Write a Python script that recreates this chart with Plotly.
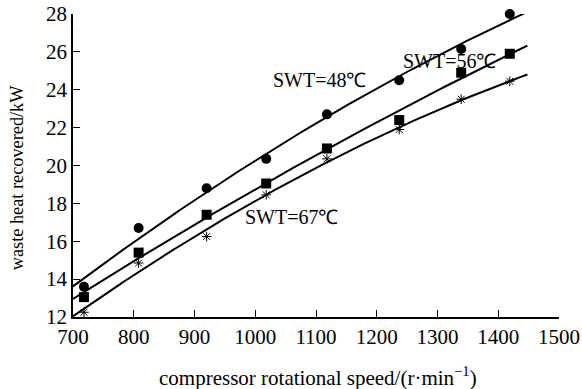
import numpy as np
import plotly.graph_objects as go

speed = [718, 808, 920, 1018, 1118, 1237, 1339, 1419]
heat_48 = [13.6, 16.7, 18.8, 20.35, 22.7, 24.5, 26.15, 28.0]
heat_56 = [13.05, 15.4, 17.4, 19.05, 20.9, 22.4, 24.9, 25.9]
heat_67 = [12.25, 14.85, 16.25, 18.45, 20.35, 21.9, 23.5, 24.45]
labels = ["SWT=48℃", "SWT=56℃", "SWT=67℃"]
label_pos = [(1106, 24.5), (1320, 25.5), (1060, 17.3)]
x_ticks = [700, 800, 900, 1000, 1100, 1200, 1300, 1400, 1500]
y_ticks = [12, 14, 16, 18, 20, 22, 24, 26, 28]
x_title = "compressor rotational speed/(r·min<sup>−1</sup>)"
y_title = "waste heat recovered/kW"

FONT = "Liberation Serif, Times New Roman, serif"
fig = go.Figure()
xs = np.linspace(700, 1448, 200)
series = [(heat_48, "circle"), (heat_56, "square"), (heat_67, "asterisk-open")]
for ys, sym in series:
    c = np.polyfit(speed, ys, 2)
    fig.add_trace(go.Scatter(x=xs, y=np.polyval(c, xs), mode="lines",
                             line=dict(color="black", width=2), showlegend=False,
                             cliponaxis=False))
    mk = dict(symbol=sym, color="black", size=10)
    if sym == "asterisk-open":
        mk = dict(symbol=sym, color="black", size=8, line=dict(color="black", width=1))
    fig.add_trace(go.Scatter(x=speed, y=ys, mode="markers", marker=mk, showlegend=False,
                             cliponaxis=False))

for t, (ax, ay) in zip(labels, label_pos):
    fig.add_annotation(x=ax, y=ay, text=t, showarrow=False,
                       font=dict(family=FONT, size=20, color="black"))

fig.add_annotation(xref="paper", yref="paper", x=0.504, y=-0.198, text=x_title,
                   showarrow=False, xanchor="center", yanchor="middle",
                   font=dict(family=FONT, size=21, color="black"))
fig.add_annotation(xref="paper", yref="paper", x=-0.116, y=0.46, text=y_title,
                   showarrow=False, xanchor="center", yanchor="middle", textangle=-90,
                   font=dict(family=FONT, size=18.3, color="black"))

fig.update_layout(
    width=582, height=389, margin=dict(l=73, r=23, t=14, b=72),
    paper_bgcolor="white", plot_bgcolor="white",
    font=dict(family=FONT, size=20, color="black"),
)
fig.update_xaxes(range=[700, 1500], tickvals=x_ticks, ticks="inside", ticklen=7,
                 tickcolor="black", showline=True, linecolor="black", linewidth=1.5,
                 showgrid=False, zeroline=False, automargin=False,
                 tickfont=dict(family=FONT, size=21, color="black"))
fig.update_yaxes(range=[12, 28], tickvals=y_ticks, ticks="inside", ticklen=7,
                 tickcolor="black", showline=True, linecolor="black", linewidth=1.5,
                 showgrid=False, zeroline=False, automargin=False,
                 tickfont=dict(family=FONT, size=21, color="black"))
fig.write_html("out.html")
